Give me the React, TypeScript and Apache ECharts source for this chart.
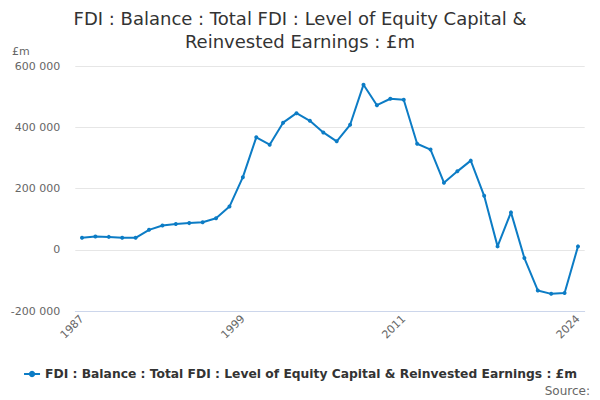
import React, { useEffect, useRef } from "react";
import * as echarts from "echarts";

const years: string[] = [];
for (let y = 1987; y <= 2024; y++) years.push(String(y));

const seriesName = "FDI : Balance : Total FDI : Level of Equity Capital & Reinvested Earnings : £m";
const values = [
  39000, 43000, 42000, 39000, 39000, 65000, 79000, 84000, 87000, 90000,
  103000, 141000, 237000, 367000, 343000, 415000, 446000, 421000, 383000, 354000,
  408000, 539000, 472000, 493000, 490000, 346000, 327000, 219000, 256000, 291000,
  176000, 11000, 122000, -27000, -133000, -144000, -141000, 11000,
];
const yTicks = [-200000, 0, 200000, 400000, 600000];

const fmt = (v: number) => {
  const s = Math.abs(v).toString().replace(/\B(?=(\d{3})+(?!\d))/g, " ");
  return (v < 0 ? "-" : "") + s;
};

export default function App() {
  const ref = useRef<HTMLDivElement>(null);
  useEffect(() => {
    document.body.style.margin = "0";
    if (!ref.current) return;
    const chart = echarts.init(ref.current, undefined, { renderer: "svg" });
    const last = years.length - 1;
    chart.setOption({
      animation: false,
      textStyle: { fontFamily: "DejaVu Sans" },
      title: {
        text: "FDI : Balance : Total FDI : Level of Equity Capital &\nReinvested Earnings : £m",
        left: "center",
        top: 2,
        textStyle: { fontSize: 18, fontWeight: "normal", color: "#333333", lineHeight: 23, fontFamily: "DejaVu Sans" },
      },
      grid: { left: 75.3, right: 15.3, top: 66, bottom: 89 },
      xAxis: {
        type: "category",
        data: years,
        boundaryGap: true,
        axisLine: { onZero: false, lineStyle: { color: "#ccd6eb" } },
        axisTick: {
          alignWithLabel: true,
          length: 10,
          lineStyle: { color: "#ccd6eb" },
          interval: (i: number) => i % 3 === 0 || i === last,
        },
        axisLabel: {
          rotate: 45,
          color: "#666666",
          fontSize: 11,
          margin: 6,
          interval: (i: number) => (i % 12 === 0 && i < 36) || i === last,
        },
      },
      yAxis: {
        type: "value",
        min: yTicks[0],
        max: yTicks[yTicks.length - 1],
        interval: 200000,
        axisLine: { show: false },
        axisTick: { show: false },
        splitLine: { lineStyle: { color: "#e6e6e6" } },
        axisLabel: { color: "#666666", fontSize: 11, margin: 15, formatter: (v: number) => fmt(v) },
      },
      legend: {
        top: 363,
        left: "center",
        itemWidth: 16,
        itemHeight: 8,
        itemGap: 10,
        textStyle: { fontSize: 12.3, fontWeight: "bold", color: "#333333", fontFamily: "DejaVu Sans" },
        data: [seriesName],
      },
      graphic: [
        { type: "text", left: 12, top: 46, style: { text: "£m", fontSize: 11, fill: "#666666", fontFamily: "DejaVu Sans" } },
        { type: "text", right: 10, top: 385, style: { text: "Source:", fontSize: 12, fill: "#666666", fontFamily: "DejaVu Sans" } },
      ],
      series: [
        {
          name: seriesName,
          type: "line",
          data: values,
          symbol: "circle",
          symbolSize: 4,
          lineStyle: { width: 2, color: "#0c7cc5" },
          itemStyle: { color: "#0c7cc5" },
        },
      ],
    });
    return () => chart.dispose();
  }, []);
  return <div ref={ref} style={{ width: 600, height: 400 }} />;
}
